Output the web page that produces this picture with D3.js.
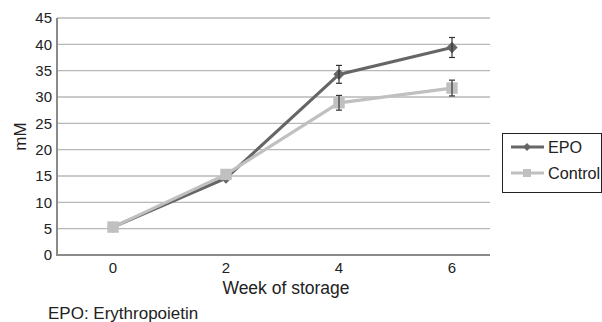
<!DOCTYPE html>
<html lang='en'>
<head>
   <meta charset='UTF-8'>
   <title>EPO vs Control</title>
   <script src='https://d3js.org/d3.v7.min.js'></script>
   <style>
      body { margin: 0; background: #fff; }
      svg { display: block; font-family: 'Liberation Sans', Arial, sans-serif; }
   </style>
</head>
<body>
   <div id='chart'></div>
   <script>
      const weeks = ['0', '2', '4', '6'];
      const epo = [5.3, 14.6, 34.3, 39.4];
      const epoErr = [0, 0, 1.7, 1.9];
      const control = [5.3, 15.3, 28.9, 31.7];
      const controlErr = [0, 0, 1.4, 1.5];
      const yTicks = [0, 5, 10, 15, 20, 25, 30, 35, 40, 45];

      const W = 602, H = 322;
      const svg = d3.select('#chart').append('svg').attr('width', W).attr('height', H);

      const plot = { left: 57, right: 490, top: 18, bottom: 255 };

      const x = d3.scalePoint().domain(weeks).range([113, 452]);
      const y = d3.scaleLinear().domain([0, 45]).range([plot.bottom, plot.top]);

      // grid lines
      svg.append('g').selectAll('line').data(yTicks.slice(1)).join('line')
         .attr('x1', plot.left).attr('x2', plot.right)
         .attr('y1', d => y(d)).attr('y2', d => y(d))
         .attr('stroke', '#b8b8b8').attr('stroke-width', 1.3);

      // axes lines
      svg.append('line').attr('x1', plot.left).attr('x2', plot.left).attr('y1', plot.top).attr('y2', plot.bottom)
         .attr('stroke', '#8a8a8a').attr('stroke-width', 2);
      svg.append('line').attr('x1', plot.left - 1).attr('x2', plot.right).attr('y1', plot.bottom).attr('y2', plot.bottom)
         .attr('stroke', '#8a8a8a').attr('stroke-width', 2);

      // tick labels
      svg.append('g').selectAll('text').data(yTicks).join('text')
         .attr('x', plot.left - 5).attr('y', d => y(d)).attr('dy', '0.35em')
         .attr('text-anchor', 'end').attr('font-size', 15).attr('fill', '#222')
         .text(d => d);
      svg.append('g').selectAll('text').data(weeks).join('text')
         .attr('x', d => x(d)).attr('y', plot.bottom + 18)
         .attr('text-anchor', 'middle').attr('font-size', 15).attr('fill', '#222')
         .text(d => d);

      svg.append('text').attr('x', 286).attr('y', 294).attr('text-anchor', 'middle')
         .attr('font-size', 17.5).attr('fill', '#222').text('Week of storage');
      svg.append('text').attr('transform', `translate(26, ${(plot.top + plot.bottom) / 2}) rotate(-90)`)
         .attr('text-anchor', 'middle').attr('font-size', 17).attr('fill', '#222').text('mM');
      svg.append('text').attr('x', 48).attr('y', 319)
         .attr('font-size', 17).attr('fill', '#222').text('EPO: Erythropoietin');

      const line = d3.line().x((d, i) => x(weeks[i])).y(d => y(d));

      // diamond = square turned 45 degrees
      const series = [
         { name: 'EPO', vals: epo, err: epoErr, color: '#666666', size: 64, rot: 45 },
         { name: 'Control', vals: control, err: controlErr, color: '#c0c0c0', size: 130, rot: 0 }
      ];

      // epo drawn first, control on top
      series.forEach(s => {
         svg.append('path').datum(s.vals).attr('d', line)
            .attr('fill', 'none').attr('stroke', s.color).attr('stroke-width', 3.2);
         svg.append('g').selectAll('path').data(s.vals).join('path')
            .attr('d', d3.symbol().type(d3.symbolSquare).size(s.size))
            .attr('transform', (d, i) => `translate(${x(weeks[i])}, ${y(d)}) rotate(${s.rot})`)
            .attr('fill', s.color);
      });

      // error bars
      series.forEach(s => {
         const g = svg.append('g').attr('stroke', '#333').attr('stroke-width', 1.2);
         s.vals.forEach((v, i) => {
            if (!s.err[i]) return;
            const cx = x(weeks[i]);
            g.append('line').attr('x1', cx).attr('x2', cx).attr('y1', y(v + s.err[i])).attr('y2', y(v - s.err[i]));
            g.append('line').attr('x1', cx - 3).attr('x2', cx + 3).attr('y1', y(v + s.err[i])).attr('y2', y(v + s.err[i]));
            g.append('line').attr('x1', cx - 3).attr('x2', cx + 3).attr('y1', y(v - s.err[i])).attr('y2', y(v - s.err[i]));
         });
      });

      // legend
      const lg = svg.append('g');
      lg.append('rect').attr('x', 502.5).attr('y', 133.5).attr('width', 99).attr('height', 59)
         .attr('fill', '#fff').attr('stroke', '#222').attr('stroke-width', 1);
      series.forEach((s, i) => {
         const ly = 147 + i * 26;
         lg.append('line').attr('x1', 511).attr('x2', 544).attr('y1', ly).attr('y2', ly)
            .attr('stroke', s.color).attr('stroke-width', 3);
         lg.append('path').attr('d', d3.symbol().type(d3.symbolSquare).size(s.size * 0.5))
            .attr('transform', `translate(527, ${ly}) rotate(${s.rot})`).attr('fill', s.color);
         lg.append('text').attr('x', 548).attr('y', ly).attr('dy', '0.35em')
            .attr('font-size', 16.2).attr('fill', '#222').text(s.name);
      });
   </script>
</body>
</html>
